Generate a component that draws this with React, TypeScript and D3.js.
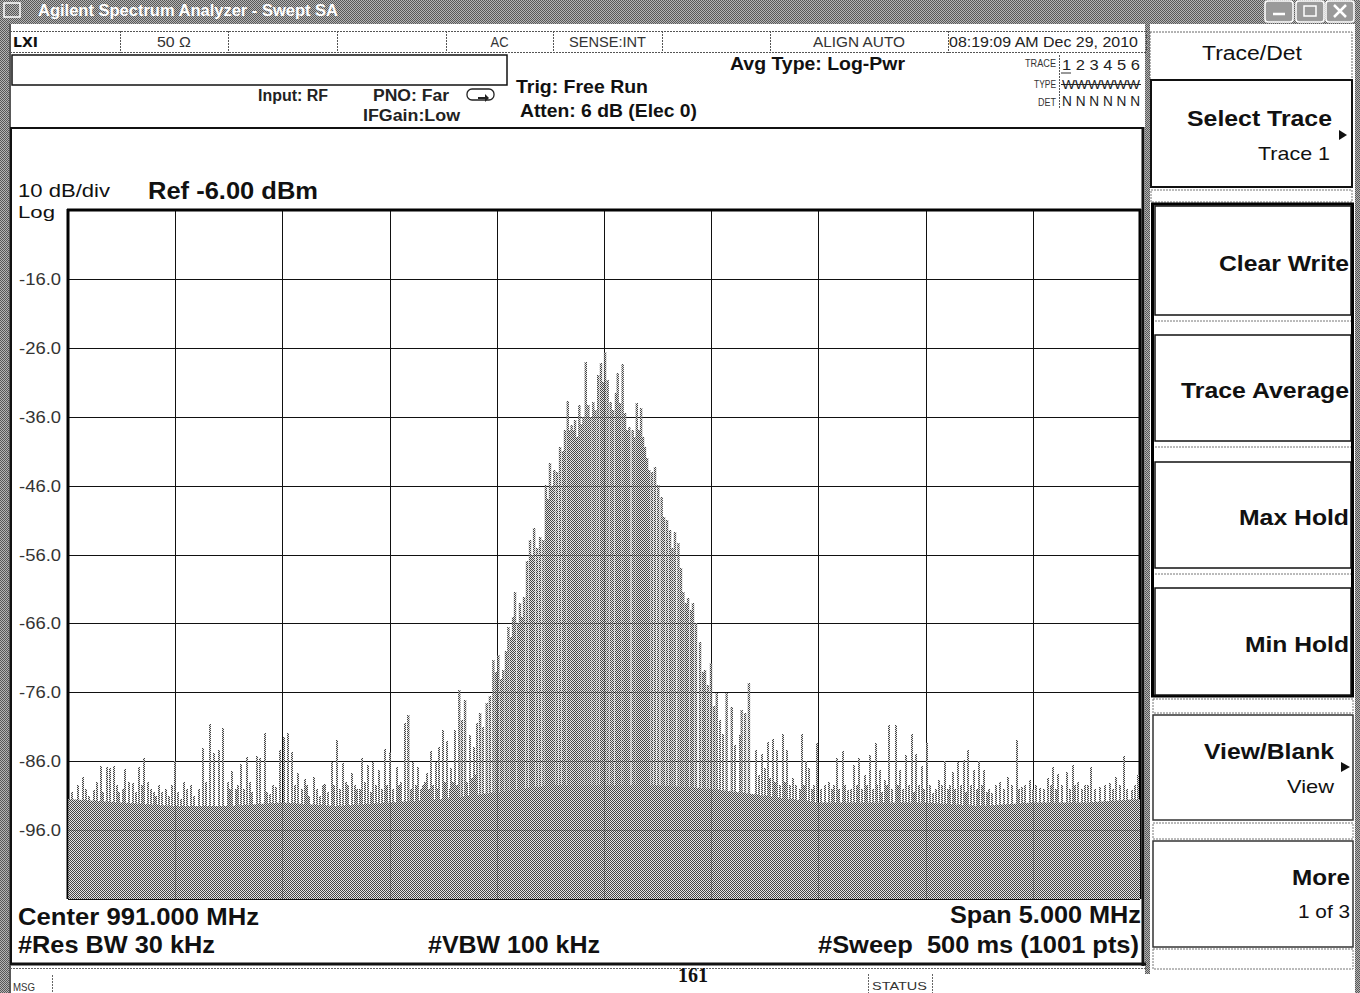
import React from "react";
import * as d3 from "d3";

// ---------- instrument settings ----------
const centerMHz = 991.0;
const spanMHz = 5.0;
const refLevelDbm = -6.0;
const dbPerDiv = 10;
const yDivisions = 10;
const xDivisions = 10;
const yTickValues = [-16, -26, -36, -46, -56, -66, -76, -86, -96];

// ---------- trace: noise floor (offset from center, kHz) ----------
const floorOffsetKHz = [-2500, -2250, -2000, -1750, -1500, -1250, -1000, -750, -500, -250, 0, 250, 500, 750, 1000, 1250, 1500, 1750, 2000, 2250, 2500];
const floorLevelDbm = [-91.5, -92, -92.5, -92.5, -92, -92.5, -92, -91.5, -90.5, -89.5, -89.5, -89.5, -90, -91, -92, -92, -92, -92.5, -92, -92, -91.5];

// ---------- trace: spectral lines (offset from center, kHz / level dBm) ----------
const spikeOffsetKHz = [
  -2480, -2431, -2400, -2379, -2347, -2319, -2304, -2285, -2260, -2234, -2197, -2169, -2145, -2114, -2090, -2063, -2030, -2001, -1975, -1946,
  -1910, -1872, -1838, -1819, -1796, -1777, -1755, -1735, -1715, -1693, -1666, -1640, -1620, -1604, -1581, -1558, -1530, -1511, -1492, -1475,
  -1454, -1426, -1395, -1375, -1353, -1325, -1301, -1270, -1244, -1216, -1195, -1177, -1150, -1130, -1099, -1076, -1048, -1021, -998, -967,
  -945, -928, -913, -889, -866, -845, -827, -808, -784, -768, -752, -731, -712, -695, -675, -662, -648, -625, -608, -591,
  -578, -564, -547, -532, -516, -504, -493, -480, -470, -457, -446, -434, -424, -415, -401, -392, -382, -373, -359, -345,
  -336, -326, -312, -298, -283, -271, -261, -252, -243, -232, -219, -205, -191, -182, -169, -161, -151, -142, -135, -126,
  -115, -105, -96, -85, -73, -63, -50, -40, -27, -14, -5, 5, 17, 31, 42, 56, 64, 75, 87, 98,
  107, 118, 134, 142, 153, 163, 173, 182, 191, 201, 211, 224, 238, 253, 269, 280, 294, 308, 319, 331,
  347, 359, 370, 382, 392, 406, 415, 429, 448, 462, 471, 485, 499, 513, 526, 541, 555, 572, 596, 611,
  634, 642, 658, 676, 709, 736, 766, 787, 808, 833, 855, 883, 922, 942, 958, 995, 1051, 1085, 1113, 1139,
  1166, 1189, 1217, 1241, 1267, 1287, 1311, 1329, 1362, 1381, 1409, 1435, 1455, 1482, 1505, 1536, 1564, 1590, 1626, 1652,
  1679, 1699, 1726, 1750, 1772, 1808, 1847, 1886, 1925, 1948, 1987, 2034, 2072, 2096, 2119, 2158, 2186, 2212, 2243, 2270,
  2313, 2360, 2388, 2425, 2461, 2492,
];
const spikeLevelDbm = [
  -90.5, -88.3, -91, -90.2, -86.7, -86.8, -87, -86.7, -90.5, -87.1, -89.2, -86.8, -85.5, -90, -91, -90.4, -91, -86, -91.5, -90,
  -91, -84.1, -80.6, -84.8, -84.4, -81.2, -89, -87.4, -90, -86.4, -85.4, -90.5, -85.2, -85.5, -81.9, -90.8, -89.7, -84.4, -82.5, -81.9,
  -84.6, -87.7, -88.6, -91, -88.3, -91, -89.3, -86.1, -82.9, -86.3, -89.5, -87.7, -90, -85.5, -86.5, -86.1, -87.3, -84.3, -84.6, -86.8,
  -89, -80.5, -79.3, -86.1, -86.8, -89.5, -87.7, -84.5, -86.1, -84, -81.5, -83.1, -87, -81.5, -75.7, -80, -77.1, -82.2, -84, -80.5,
  -79, -81, -77.6, -76.5, -71.3, -73, -70.6, -74, -72.8, -70, -66.5, -68, -65, -61.4, -66, -63, -65, -62.2, -57, -53.9,
  -56, -52.2, -55, -53.5, -53.9, -45.9, -48, -42.7, -46, -43.7, -44, -40.4, -41, -38, -33.7, -38, -37.2, -38, -36.5, -39,
  -34.3, -37, -36, -28.1, -34.3, -36, -33.9, -35, -29.9, -28.2, -31, -26.6, -30.7, -33.9, -35, -32.6, -29.7, -34, -28.4, -35.5,
  -38, -37.5, -37.9, -39, -34, -38, -34.7, -39, -40.4, -42, -43.7, -44, -43.3, -45.9, -47.6, -50.5, -51, -52.4, -55, -52.7,
  -54.3, -58, -61.4, -63, -62.3, -64, -63, -66, -68.7, -73, -72.8, -75, -71.8, -78, -76.1, -80, -82, -76.1, -78.1, -83.6,
  -82.2, -78.6, -79, -74.6, -84.4, -84.9, -83.2, -82.8, -84.4, -82, -84.4, -88.4, -82, -85.9, -87, -83.4, -89, -85.5, -84.5, -90.2,
  -86.5, -85.5, -88, -85.1, -83.4, -87.3, -88.7, -80.7, -80.7, -87.3, -85.1, -82, -84.9, -86.7, -83.4, -90.6, -88.7, -85.9, -87.6, -86.1,
  -85.8, -84.4, -87.3, -86, -87.3, -90.6, -89, -88.3, -82.9, -89.7, -88.7, -89.9, -88.4, -86.8, -87.8, -87.6, -86.6, -89, -89.5, -86.8,
  -89.7, -89.2, -88.3, -85.2, -90.2, -88,
];

// ---------- trace: low "grass" lines just above the floor ----------
const grassOffsetKHz = [
  -2455, -2415, -2365, -2335, -2272, -2245, -2215, -2182, -2157, -2128, -2100, -2075, -2045, -2015, -1988, -1960, -1928, -1890, -1855, -1745,
  -1705, -1680, -1652, -1570, -1544, -1440, -1410, -1385, -1340, -1312, -1285, -1257, -1230, -1205, -1163, -1140, -1115, -1088, -1062, -1035,
  -1010, -982, -955, -900, -878, -855, -836, -818, -796, -776, -740, -720, -703, -685, -637, -615, -600,
  722, 750, 776, 797, 820, 845, 868, 895, 912, 932, 968, 980, 1010, 1030, 1063, 1075, 1097, 1125, 1152, 1178,
  1203, 1229, 1254, 1275, 1298, 1320, 1345, 1370, 1395, 1422, 1445, 1468, 1493, 1520, 1550, 1577, 1605, 1615, 1638, 1665,
  1690, 1712, 1738, 1761, 1785, 1796, 1828, 1866, 1905, 1937, 1965, 1999, 2015, 2052, 2085, 2108, 2135, 2172, 2199, 2228,
  2257, 2290, 2335, 2373, 2405, 2440, 2475,
];
const grassLevelDbm = [
  -89.5, -90, -89, -90.5, -89.5, -90, -89, -90.5, -89.5, -89, -90.5, -89.5, -90, -89.5, -90.5, -89, -89.5, -90, -89, -90,
  -89.5, -90, -89, -90.5, -89.5, -89.5, -90, -89.5, -90, -89.5, -90.5, -89.5, -90, -89, -89.5, -90, -89, -90.5, -89.5, -90,
  -89.5, -90, -89.5, -90, -89.5, -90, -89, -90, -89.5, -90, -89, -90, -89, -89.5, -89, -88.5, -88,
  -88, -87, -88.5, -89, -89.5, -89, -89.5, -89.5, -90, -89.5, -90, -89.5, -90, -89.5, -90, -89.5, -90, -89.5, -90, -89.5,
  -90, -89.5, -90, -89.5, -90.5, -89.5, -90, -89.5, -90, -89.5, -90.5, -89.5, -90, -89.5, -90, -89.5, -90, -89.5, -90, -89.5,
  -90.5, -89.5, -90, -89.5, -90.5, -90, -89.5, -90, -89.5, -90, -89.5, -90, -89.5, -90, -89.5, -90, -89.5, -90, -89.5, -90,
  -89.5, -90, -89.5, -90, -89.5, -90, -89.5,
];

// ---------- annotation texts ----------
const statusCells = ["50 Ω", "", "", "AC", "SENSE:INT", "", "ALIGN AUTO"];
const statusWidths = [34, 0, 0, 18, 77, 0, 92];
const softKeys = ["Clear Write", "Trace Average", "Max Hold", "Min Hold"];
const softKeyWidths = [130, 168, 110, 104];
const traceNumbers = "1 2 3 4 5 6";

const SANS = "'Liberation Sans', Arial, sans-serif";

type TP = {
  x: number; y: number; size: number; bold?: boolean; anchor?: "start" | "middle" | "end";
  fill?: string; family?: string; children: React.ReactNode; len?: number;
};
function T({ x, y, size, bold, anchor = "start", fill = "#000", family = SANS, children, len }: TP) {
  return (
    <text x={x} y={y} fontSize={size} fontWeight={bold ? "bold" : "normal"} textAnchor={anchor}
      fill={fill} fontFamily={family} textLength={len} lengthAdjust={len ? "spacingAndGlyphs" : undefined}
      style={{ whiteSpace: "pre" }}>
      {children}
    </text>
  );
}

export default function App() {
  const plot = { left: 68, right: 1140, top: 210, bottom: 899 };
  const fx = d3.scaleLinear().domain([centerMHz - spanMHz / 2, centerMHz + spanMHz / 2]).range([plot.left, plot.right]);
  const fy = d3.scaleLinear().domain([refLevelDbm - dbPerDiv * yDivisions, refLevelDbm]).range([plot.bottom, plot.top]);

  const floorData = floorOffsetKHz.map((k, i) => ({ f: centerMHz + k / 1000, db: floorLevelDbm[i] }));
  const area = d3.area<{ f: number; db: number }>().x(d => fx(d.f)).y0(plot.bottom).y1(d => fy(d.db)).curve(d3.curveLinear);
  const spikes = spikeOffsetKHz.map((k, i) => ({ f: centerMHz + k / 1000, db: spikeLevelDbm[i] }));
  const grass = grassOffsetKHz.map((k, i) => ({ f: centerMHz + k / 1000, db: grassLevelDbm[i] }));

  const vLines = d3.range(0, xDivisions + 1).map(i => fx(fx.domain()[0] + (i * spanMHz) / xDivisions));
  const hLines = d3.range(0, yDivisions + 1).map(i => fy(refLevelDbm - i * dbPerDiv));

  const grid = (opacity: number) => (
    <g opacity={opacity} shapeRendering="crispEdges">
      {vLines.map((vx, i) => (
        <line key={"v" + i} x1={Math.round(vx) + 0.5} x2={Math.round(vx) + 0.5} y1={plot.top} y2={plot.bottom} stroke="#111" strokeWidth={1.4} />
      ))}
      {hLines.map((hy, i) => (
        <line key={"h" + i} x1={plot.left} x2={plot.right} y1={Math.round(hy) + 0.5} y2={Math.round(hy) + 0.5} stroke="#111" strokeWidth={1.4} />
      ))}
    </g>
  );

  const statusX = [10, 120, 228, 337, 446, 553, 662, 770, 948, 1146];

  const bar = (s: { f: number; db: number }, key: string, w: number) => {
    const top = Math.round(fy(s.db));
    return <rect key={key} x={Math.round(fx(s.f)) - Math.floor(w / 2)} y={top} width={w} height={plot.bottom - top} fill="url(#dither)" shapeRendering="crispEdges" />;
  };
  const softBar = (s: { f: number; db: number }, key: string, w: number) => {
    const top = Math.round(fy(s.db));
    return <rect key={key} x={fx(s.f) - w / 2} y={top} width={w} height={plot.bottom - top} fill="url(#dither)" />;
  };

  return (
    <svg width={1360} height={993} style={{ position: "absolute", left: 0, top: 0, background: "#fff" }}>
      <defs>
        <pattern id="dither" width="2" height="2" patternUnits="userSpaceOnUse">
          <rect width="2" height="2" fill="#e4e4e4" />
          <rect width="1" height="1" fill="#444" />
          <rect x="1" y="1" width="1" height="1" fill="#444" />
        </pattern>
        <pattern id="ditherDark" width="2" height="2" patternUnits="userSpaceOnUse">
          <rect width="2" height="2" fill="#b4b4b4" />
          <rect width="1" height="1" fill="#585858" />
          <rect x="1" y="1" width="1" height="1" fill="#585858" />
        </pattern>
      </defs>
      <rect width={1360} height={993} fill="#fff" />

      {/* title bar */}
      <rect x={0} y={0} width={1360} height={24} fill="url(#ditherDark)" />
      <rect x={4} y={3} width={16} height={14} fill="none" stroke="#fff" strokeWidth={1.5} />
      <T x={38} y={16} size={16} bold fill="#fff" len={300}>Agilent Spectrum Analyzer - Swept SA</T>
      {[1265, 1296, 1326].map((bx, i) => (
        <g key={i}>
          <rect x={bx} y={1} width={28} height={21} rx={3} fill="#9a9a9a" stroke="#fff" strokeWidth={1.5} />
          {i === 0 && <line x1={bx + 8} x2={bx + 20} y1={14} y2={14} stroke="#fff" strokeWidth={2.5} />}
          {i === 1 && <rect x={bx + 8} y={6} width={12} height={10} fill="none" stroke="#fff" strokeWidth={1.5} />}
          {i === 2 && <path d={`M${bx + 8},5 L${bx + 20},17 M${bx + 20},5 L${bx + 8},17`} stroke="#fff" strokeWidth={2.5} />}
        </g>
      ))}

      {/* side strips */}
      <rect x={0} y={24} width={9} height={969} fill="url(#ditherDark)" />
      <line x1={10} x2={10} y1={24} y2={993} stroke="#222" strokeWidth={1.5} />
      <rect x={1145} y={24} width={5} height={950} fill="url(#ditherDark)" />
      <rect x={1355} y={24} width={5} height={969} fill="url(#ditherDark)" />

      {/* status row */}
      <g shapeRendering="crispEdges">
        <line x1={10} x2={1146} y1={31.5} y2={31.5} stroke="#555" strokeDasharray="2 1" />
        <line x1={10} x2={1146} y1={52.5} y2={52.5} stroke="#555" strokeDasharray="2 1" />
        {statusX.map((sx, i) => (
          <line key={i} x1={sx + 0.5} x2={sx + 0.5} y1={31} y2={53} stroke="#555" strokeDasharray="2 1" />
        ))}
      </g>
      <T x={13} y={47} size={14} bold fill="#111" family="'DejaVu Sans', sans-serif">LXI</T>
      {statusCells.map((s, i) => (s ? (
        <T key={i} x={(statusX[i + 1] + statusX[i + 2]) / 2} y={47} size={14} anchor="middle" fill="#333" len={statusWidths[i]}>{s}</T>
      ) : null))}
      <T x={949} y={47} size={14} fill="#222" len={189}>08:19:09 AM Dec 29, 2010</T>

      {/* input box & settings */}
      <rect x={12} y={55} width={495} height={30} fill="#fff" stroke="#111" strokeWidth={1.5} />
      <T x={258} y={101} size={16} bold fill="#222" len={70}>Input: RF</T>
      <T x={373} y={101} size={16} bold fill="#222" len={76}>PNO: Far</T>
      <rect x={467} y={89} width={27} height={11} rx={5} fill="none" stroke="#222" strokeWidth={1.3} />
      <path d="M478,97 L485,97 L485,94 L489,98 L485,102 L485,99 L478,99 Z" fill="#222" />
      <T x={363} y={121} size={16} bold fill="#222" len={97}>IFGain:Low</T>
      <T x={516} y={93} size={18} bold fill="#111" len={132}>Trig: Free Run</T>
      <T x={520} y={117} size={18} bold fill="#111" len={177}>Atten: 6 dB (Elec 0)</T>
      <T x={730} y={70} size={18} bold fill="#111" len={175}>Avg Type: Log-Pwr</T>

      <line x1={1059.5} x2={1059.5} y1={55} y2={109} stroke="#555" strokeDasharray="2 1" />
      <T x={1056} y={67} size={10} anchor="end" fill="#333" len={31}>TRACE</T>
      <T x={1062} y={70} size={15} fill="#222" len={78}>{traceNumbers}</T>
      <line x1={1061} x2={1071} y1={73} y2={73} stroke="#333" strokeWidth={1} />
      <T x={1056} y={88} size={10} anchor="end" fill="#333" len={22}>TYPE</T>
      <T x={1062} y={89} size={12} fill="#222" len={78}>WWWWWW</T>
      <line x1={1061} x2={1141} y1={84.5} y2={84.5} stroke="#222" strokeWidth={1} />
      <T x={1056} y={106} size={10} anchor="end" fill="#333" len={18}>DET</T>
      <T x={1062} y={106} size={14} fill="#222" len={78}>N N N N N N</T>

      {/* main display frame */}
      <rect x={11} y={128} width={1132} height={836} fill="none" stroke="#111" strokeWidth={2} />
      <line x1={11} x2={1146} y1={964} y2={964} stroke="#111" strokeWidth={3} />
      <line x1={1143} x2={1143} y1={127} y2={966} stroke="#111" strokeWidth={3} />

      <T x={18} y={197} size={18} fill="#111" len={92}>10 dB/div</T>
      <T x={18} y={218} size={17} fill="#111" len={37}>Log</T>
      <T x={148} y={199} size={24} bold fill="#111" len={170}>Ref -6.00 dBm</T>

      {/* graticule below trace */}
      {grid(1)}
      <line x1={plot.left} x2={plot.left} y1={plot.top - 1} y2={plot.bottom} stroke="#000" strokeWidth={3} />
      <line x1={plot.left - 1} x2={plot.right + 1} y1={plot.top} y2={plot.top} stroke="#000" strokeWidth={3} />
      <line x1={plot.right} x2={plot.right} y1={plot.top - 1} y2={plot.bottom} stroke="#000" strokeWidth={3} />

      {/* trace */}
      <path d={area(floorData) || ""} fill="url(#dither)" />
      <g>
        {grass.map((s, i) => bar(s, "g" + i, 2))}
        {spikes.map((s, i) => (s.db > -80 ? softBar(s, "s" + i, 2.4) : bar(s, "s" + i, 2)))}
      </g>
      {grid(0.3)}

      {/* y tick labels */}
      {yTickValues.map(v => (
        <T key={v} x={61} y={fy(v) + 6} size={16} anchor="end" fill="#333" len={42}>{v.toFixed(1)}</T>
      ))}

      {/* bottom annotations */}
      <T x={18} y={925} size={23} bold fill="#111" len={241}>Center 991.000 MHz</T>
      <T x={1141} y={923} size={23} bold anchor="end" fill="#111" len={191}>Span 5.000 MHz</T>
      <T x={18} y={953} size={23} bold fill="#111" len={197}>#Res BW 30 kHz</T>
      <T x={428} y={953} size={23} bold fill="#111" len={172}>#VBW 100 kHz</T>
      <T x={1139} y={953} size={23} bold anchor="end" fill="#111" len={321}>{"#Sweep  500 ms (1001 pts)"}</T>

      {/* bottom strip */}
      <line x1={10} x2={1146} y1={968.5} y2={968.5} stroke="#666" strokeDasharray="2 1" />
      <T x={13} y={991} size={11} fill="#333" len={22}>MSG</T>
      <line x1={52.5} x2={52.5} y1={975} y2={993} stroke="#666" strokeDasharray="2 1" />
      <T x={678} y={982} size={21} bold fill="#111" family="'Liberation Serif', 'DejaVu Serif', serif" len={30}>161</T>
      <line x1={868.5} x2={868.5} y1={974} y2={993} stroke="#666" strokeDasharray="2 1" />
      <line x1={932.5} x2={932.5} y1={974} y2={993} stroke="#666" strokeDasharray="2 1" />
      <T x={872} y={990} size={11} fill="#333" len={55}>STATUS</T>

      {/* soft-key panel */}
      <rect x={1150} y={32} width={202} height={48} fill="#fff" stroke="#666" strokeDasharray="2 1" />
      <T x={1252} y={60} size={20} anchor="middle" fill="#111" len={100}>Trace/Det</T>
      <rect x={1151} y={80} width={201} height={107} fill="#fff" stroke="#111" strokeWidth={2} />
      <T x={1332} y={126} size={22} bold anchor="end" fill="#111" len={145}>Select Trace</T>
      <T x={1330} y={160} size={19} anchor="end" fill="#111" len={72}>Trace 1</T>
      <path d="M1339,130 L1347,135 L1339,140 Z" fill="#111" />
      <rect x={1151} y={190} width={201} height={12} fill="none" stroke="#777" strokeDasharray="2 1" />

      <rect x={1152.5} y={204} width={200} height={492} fill="#fff" stroke="#000" strokeWidth={3} />
      {softKeys.map((k, i) => {
        const ty = [206, 335, 462, 588][i];
        const th = [109, 106, 106, 107][i];
        return (
          <g key={k}>
            <rect x={1155} y={ty} width={196} height={th} fill="#fff" stroke="#111" strokeWidth={1.5} />
            {i < 3 && <line x1={1155} x2={1351} y1={ty + th + 6} y2={ty + th + 6} stroke="#777" strokeDasharray="2 1" />}
            <T x={1349} y={ty + th / 2 + 10} size={22} bold anchor="end" fill="#111" len={softKeyWidths[i]}>{k}</T>
          </g>
        );
      })}
      <rect x={1153} y={699} width={200} height={14} fill="none" stroke="#777" strokeDasharray="2 1" />
      <rect x={1153} y={715} width={200} height={105} fill="#fff" stroke="#333" strokeWidth={1.5} />
      <T x={1334} y={759} size={22} bold anchor="end" fill="#111" len={130}>View/Blank</T>
      <T x={1334} y={793} size={19} anchor="end" fill="#111" len={47}>View</T>
      <path d="M1341,762 L1350,767 L1341,772 Z" fill="#111" />
      <rect x={1153} y={823} width={200} height={16} fill="none" stroke="#777" strokeDasharray="2 1" />
      <rect x={1153} y={841} width={200} height={106} fill="#fff" stroke="#333" strokeWidth={1.5} />
      <T x={1350} y={885} size={22} bold anchor="end" fill="#111" len={58}>More</T>
      <T x={1350} y={918} size={19} anchor="end" fill="#111" len={52}>1 of 3</T>
      <rect x={1153} y={949} width={200} height={20} fill="none" stroke="#777" strokeDasharray="2 1" />
    </svg>
  );
}
